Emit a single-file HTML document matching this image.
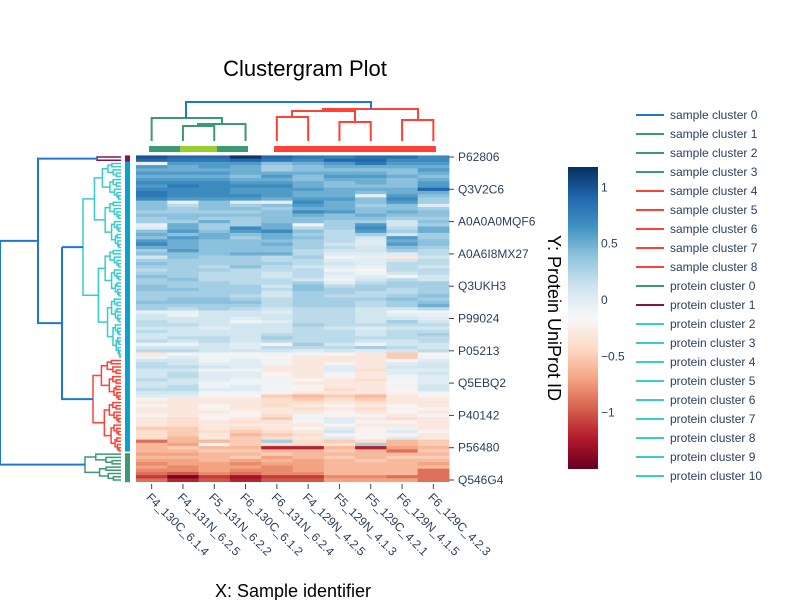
<!DOCTYPE html>
<html><head><meta charset="utf-8"><style>
body{margin:0;background:#fff;}
svg{font-family:"Liberation Sans",Arial,sans-serif;}
</style></head><body>
<svg id="chart" width="800" height="600" xmlns="http://www.w3.org/2000/svg">
<text x="305" y="76" font-size="22" text-anchor="middle" fill="#000">Clustergram Plot</text>
<text x="293" y="597" font-size="18" text-anchor="middle" fill="#000">X: Sample identifier</text>
<g id="heat"></g>
<g id="xt"></g>
<g id="yt"></g>
<g id="cden"></g>
<g id="rden"></g>
<g id="cbar"></g>
<g id="leg"></g>
<text transform="translate(548,318) rotate(90)" font-size="18" text-anchor="middle" fill="#000">Y: Protein UniProt ID</text>
</svg>
<script>
const columns=["F4_130C_6.1.4","F4_131N_6.2.5","F5_131N_6.2.2","F6_130C_6.1.2","F6_131N_6.2.4","F4_129N_4.2.5","F5_129N_4.1.3","F5_129C_4.2.1","F6_129N_4.1.5","F6_129C_4.2.3"];
const rowLabels=["P62806","Q3V2C6","A0A0A0MQF6","A0A6I8MX27","Q3UKH3","P99024","P05213","Q5EBQ2","P40142","P56480","Q546G4"];
const colorTicks=[1,0.5,0,-0.5,-1];
const legendNames=["sample cluster 0","sample cluster 1","sample cluster 2","sample cluster 3","sample cluster 4","sample cluster 5","sample cluster 6","sample cluster 7","sample cluster 8","protein cluster 0","protein cluster 1","protein cluster 2","protein cluster 3","protein cluster 4","protein cluster 5","protein cluster 6","protein cluster 7","protein cluster 8","protein cluster 9","protein cluster 10"];
const legendColors=["#1f77d4","#3d9970","#3d9970","#3d9970","#ff4136","#ff4136","#ff4136","#ff4136","#ff4136","#3d9970","#85144b","#39cccc","#39cccc","#39cccc","#39cccc","#39cccc","#39cccc","#39cccc","#39cccc","#39cccc"];
const values=[
[1.0,0.9,0.9,1.15,0.9,0.8,0.75,0.85,0.85,0.7],
[0.9,0.8,0.8,0.9,0.8,0.7,0.9,0.9,0.7,0.7],
[-0.1,0.6,0.6,0.6,0.4,0.5,0.6,0.8,0.6,0.6],
[0.6,0.5,0.6,0.5,0.3,0.4,0.5,0.5,0.5,0.5],
[0.5,0.5,0.5,0.5,0.3,0.4,0.4,0.4,0.4,0.6],
[0.6,0.6,0.6,0.5,0.5,0.5,0.5,0.5,0.4,0.5],
[0.5,0.5,0.5,0.4,0.6,0.4,0.6,0.6,0.5,0.4],
[0.6,0.6,0.6,0.5,0.5,0.4,0.5,0.5,0.4,0.5],
[0.7,0.7,0.7,0.6,0.6,0.5,0.4,0.5,0.4,0.6],
[0.6,0.8,0.7,0.7,0.7,0.5,0.4,0.4,0.4,0.6],
[0.7,0.7,0.7,0.6,0.6,0.6,0.5,0.5,0.5,0.9],
[0.8,0.7,0.7,0.6,0.6,0.5,0.5,0.4,0.5,0.5],
[0.8,0.7,0.7,0.7,0.6,0.5,0.5,-0.05,0.6,0.4],
[0.7,0.6,0.6,0.6,0.5,0.6,0.6,0.4,0.7,0.3],
[0.4,-0.05,0.4,0.0,-0.05,0.7,0.5,0.4,0.6,0.3],
[0.4,0.2,0.4,0.3,0.4,0.6,0.5,0.3,0.4,0.0],
[0.4,0.3,0.4,0.4,0.3,0.5,0.5,0.4,0.4,0.3],
[0.3,0.3,0.3,0.3,0.4,0.7,0.6,0.4,0.5,0.4],
[0.4,0.4,0.4,0.4,0.4,0.5,0.4,0.5,0.4,0.4],
[0.3,0.4,0.3,0.3,0.4,0.4,0.4,0.4,0.3,0.3],
[0.3,0.3,0.5,0.3,0.4,0.4,0.3,0.3,0.1,0.4],
[-0.05,0.5,0.3,0.3,0.5,-0.1,0.3,0.6,0.1,0.3],
[0.0,0.5,0.3,0.7,0.5,0.2,0.3,0.7,0.2,0.5],
[0.4,0.6,0.4,0.6,0.7,0.4,0.2,0.6,0.3,0.5],
[0.5,0.4,0.5,0.4,0.5,0.3,0.2,0.3,0.1,0.3],
[0.4,0.6,0.5,0.3,0.5,0.4,0.2,0.1,0.6,0.3],
[0.6,0.5,0.4,0.4,0.4,0.3,0.2,0.0,0.5,0.4],
[0.7,0.5,0.4,0.4,0.5,0.3,0.1,0.0,0.6,0.4],
[0.5,0.5,0.4,0.4,0.4,0.3,0.2,0.1,0.4,0.3],
[0.3,0.6,0.4,0.4,0.4,0.2,0.1,0.1,0.3,0.2],
[0.4,0.4,0.4,0.5,0.5,0.2,0.0,0.0,0.0,0.2],
[0.1,0.4,0.3,0.3,0.2,0.3,-0.1,-0.05,-0.3,0.1],
[0.3,0.3,0.3,0.3,0.2,0.2,0.0,0.0,0.1,0.2],
[0.4,0.3,0.3,0.3,0.3,0.2,0.1,0.0,0.2,0.2],
[0.3,0.3,0.2,0.4,0.2,0.1,0.0,-0.05,0.2,0.1],
[0.2,0.3,0.3,0.2,0.2,0.2,-0.1,-0.2,0.2,0.2],
[0.3,0.3,0.2,0.2,0.1,0.2,0.0,-0.1,0.1,0.2],
[0.4,0.3,0.2,0.2,0.1,0.2,-0.05,0.0,-0.2,0.1],
[0.3,0.4,0.2,0.2,0.2,0.1,-0.1,0.1,0.2,0.1],
[0.3,0.3,0.3,0.2,0.2,0.3,0.0,0.2,0.3,0.3],
[0.4,0.3,0.3,0.3,0.1,0.4,0.2,0.3,0.3,0.3],
[0.4,0.4,0.3,0.3,0.2,0.4,0.3,0.3,0.2,0.3],
[0.3,0.3,0.3,0.3,0.1,0.3,0.3,0.2,0.2,0.3],
[0.3,0.3,0.3,0.2,0.1,0.3,0.2,0.2,0.3,0.4],
[0.3,0.4,0.4,0.3,0.2,0.3,0.3,0.3,0.4,0.3],
[0.4,0.4,0.4,0.4,0.2,0.3,0.3,0.2,0.3,0.4],
[0.3,0.3,0.3,0.3,0.2,0.3,0.3,0.2,0.3,0.5],
[0.3,0.2,0.3,0.2,0.1,0.2,0.2,0.1,0.1,0.2],
[-0.05,-0.05,0.1,0.1,0.0,0.2,0.2,0.1,-0.1,-0.1],
[0.1,-0.1,0.1,0.1,0.1,0.2,0.2,0.1,0.0,-0.05],
[0.1,0.1,0.1,0.0,0.1,0.2,0.2,0.1,0.1,0.0],
[0.2,0.1,0.1,-0.1,0.0,0.2,0.2,0.1,0.3,0.1],
[0.2,0.2,0.1,0.1,0.1,0.3,0.2,0.2,0.2,0.2],
[0.1,0.1,0.0,0.1,0.1,0.2,0.1,0.0,0.1,0.1],
[0.2,0.1,0.1,0.1,0.1,0.2,0.2,0.1,0.2,0.2],
[0.1,0.1,0.1,0.1,0.2,0.2,0.2,0.1,0.2,0.3],
[0.1,0.2,0.2,0.1,0.3,0.2,0.2,0.2,0.2,0.2],
[0.2,0.1,0.2,0.1,0.2,0.2,0.2,0.1,0.1,0.2],
[-0.1,-0.1,0.1,0.0,-0.2,0.3,0.1,-0.1,0.1,0.1],
[0.1,0.1,0.1,0.0,0.2,0.2,0.2,0.3,0.2,0.1],
[0.2,0.2,0.1,0.1,0.1,0.0,0.1,0.0,0.1,0.2],
[-0.3,-0.2,-0.1,-0.2,-0.1,-0.1,-0.2,-0.3,-0.5,-0.2],
[-0.1,0.0,-0.1,-0.1,-0.2,-0.3,-0.3,-0.3,-0.5,-0.1],
[0.1,0.1,-0.1,0.0,-0.1,-0.3,-0.3,-0.3,-0.2,0.0],
[0.2,0.1,0.0,0.0,-0.1,-0.3,-0.2,-0.3,0.0,0.1],
[0.2,0.2,0.1,0.0,-0.3,-0.3,0.0,-0.3,0.1,0.1],
[0.1,0.1,-0.1,-0.1,-0.3,-0.3,0.0,-0.4,0.0,0.0],
[0.1,0.2,0.0,0.0,-0.2,-0.3,-0.1,-0.3,0.0,0.1],
[0.1,0.2,0.0,0.0,-0.2,-0.3,-0.2,-0.3,-0.1,0.0],
[0.2,0.1,0.0,-0.1,-0.1,-0.2,-0.3,-0.4,-0.1,0.0],
[0.1,0.1,-0.1,-0.1,-0.1,-0.3,-0.3,-0.3,-0.2,0.0],
[0.1,0.2,-0.1,0.0,-0.1,-0.2,-0.3,-0.3,-0.1,0.1],
[0.2,0.2,0.0,0.0,-0.1,-0.2,-0.4,-0.3,-0.2,0.1],
[0.1,0.1,-0.1,-0.1,-0.2,-0.3,-0.3,-0.3,-0.2,-0.1],
[0.0,0.0,-0.2,-0.2,-0.5,-0.6,-0.5,-0.6,-0.3,-0.2],
[-0.2,-0.3,-0.3,-0.3,-0.4,-0.5,-0.4,-0.5,-0.3,-0.3],
[-0.3,-0.3,-0.3,-0.3,-0.4,-0.4,-0.3,-0.4,-0.3,-0.3],
[-0.2,-0.3,-0.2,-0.3,-0.4,-0.3,-0.2,-0.3,-0.2,-0.3],
[-0.3,-0.3,-0.2,-0.3,-0.3,-0.4,-0.3,-0.4,-0.1,-0.2],
[-0.3,-0.3,-0.3,-0.2,-0.3,-0.3,-0.2,-0.3,-0.2,-0.3],
[-0.2,-0.3,-0.2,-0.2,-0.4,-0.1,-0.2,-0.2,-0.3,-0.2],
[-0.3,-0.4,-0.2,-0.3,-0.5,-0.1,0.0,-0.3,-0.4,-0.3],
[-0.3,-0.4,-0.3,-0.4,-0.3,-0.2,0.0,-0.2,-0.2,-0.3],
[-0.3,-0.4,-0.3,-0.3,-0.3,-0.3,-0.2,-0.3,-0.3,-0.3],
[-0.5,-0.5,-0.3,-0.4,-0.3,-0.2,0.0,-0.2,-0.1,-0.3],
[-0.4,-0.5,-0.4,-0.5,-0.4,-0.3,0.1,-0.2,0.0,-0.2],
[-0.4,-0.5,-0.3,-0.6,-0.5,-0.4,-0.2,-0.2,-0.2,-0.3],
[-0.4,-0.6,-0.3,-0.5,-0.4,-0.3,0.0,-0.2,0.0,-0.3],
[-0.9,-0.6,-0.6,-0.5,0.3,-0.4,-0.5,-0.4,-0.6,-0.5],
[-0.6,-0.7,-0.2,-0.5,-0.4,-0.4,-0.4,0.3,-0.6,-0.5],
[-0.6,-0.5,-0.6,-0.6,-1.2,-1.2,-0.6,-1.2,-0.7,-0.6],
[-0.6,-0.6,-0.5,-0.5,-0.6,-0.6,-0.5,-0.6,-0.9,-0.5],
[-0.7,-0.7,-0.6,-0.6,-0.5,-0.6,-0.6,-0.6,-0.6,-0.6],
[-0.6,-0.6,-0.6,-0.5,-0.7,-0.6,-0.5,-0.6,-0.5,-0.5],
[-0.7,-0.7,-0.6,-0.7,-0.6,-0.7,-0.6,-0.5,-0.6,-0.6],
[-0.8,-0.7,-0.7,-0.8,-0.7,-0.7,-0.6,-0.6,-0.6,-0.7],
[-0.7,-0.8,-0.7,-0.7,-0.8,-0.7,-0.6,-0.6,-0.6,-0.6],
[-0.8,-0.8,-0.7,-0.8,-0.8,-0.7,-0.6,-0.6,-0.6,-0.9],
[-0.9,-1.0,-0.8,-0.9,-0.8,-0.8,-0.6,-0.6,-0.6,-0.9],
[-1.1,-1.45,-1.1,-1.3,-1.1,-1.1,-0.8,-0.8,-0.9,-0.9],
[-0.9,-1.2,-1.0,-1.2,-1.0,-1.0,-0.7,-0.7,-0.7,-0.9]
];
const NS="http://www.w3.org/2000/svg";
function mk(tag,attrs,parent){const e=document.createElementNS(NS,tag);for(const k in attrs)e.setAttribute(k,attrs[k]);parent.appendChild(e);return e;}
const zMin=-1.5,zMax=1.18;
const stops=[[103,0,31],[178,24,43],[214,96,77],[244,165,130],[253,219,199],[247,247,247],[209,229,240],[146,197,222],[67,147,195],[33,102,172],[5,48,97]];
function color(v){let t=(v-zMin)/(zMax-zMin);t=Math.max(0,Math.min(1,t))*(stops.length-1);const i=Math.min(stops.length-2,Math.floor(t)),f=t-i;const a=stops[i],b=stops[i+1];return `rgb(${Math.round(a[0]+(b[0]-a[0])*f)},${Math.round(a[1]+(b[1]-a[1])*f)},${Math.round(a[2]+(b[2]-a[2])*f)})`;}
const X0=136,X1=449,Y0=157,Y1=480;
const nC=columns.length,nR=values.length;
const cw=(X1-X0)/nC, rh=(Y1-Y0)/(nR-1);
function xScale(c){return X0+cw*(c+0.5);}
function yScale(r){return Y0+rh*r;}
const heat=document.getElementById('heat');
values.forEach((row,r)=>row.forEach((v,c)=>{
  const e=mk('rect',{x:X0+cw*c,y:Math.max(Y0-1.6,yScale(r)-rh/2),width:cw+0.4,height:rh+0.4,fill:color(v)},heat);
  
  
}));
const xt=document.getElementById('xt');
columns.forEach((lab,c)=>{
  const x=xScale(c);
  mk('line',{x1:x,y1:484,x2:x,y2:489,stroke:'#444'},xt);
  const t=mk('text',{transform:`translate(${x-6},498) rotate(45)`,'font-size':12,fill:'#2a3f5f'},xt);
  t.textContent=lab;
  
  
});
const yt=document.getElementById('yt');
rowLabels.forEach((lab,i)=>{
  const y=yScale(i*10);
  mk('line',{x1:449,y1:y,x2:454,y2:y,stroke:'#444'},yt);
  const t=mk('text',{x:458,y:y+4,'font-size':12,fill:'#2a3f5f'},yt);
  t.textContent=lab;
  
  
});
const cd=document.getElementById('cden');
function path(d,col,g,w){const p=mk('path',{d:d,stroke:col,fill:'none','stroke-width':w||2},g);return p;}
const G='#3d9970',R='#ff4136',B='#1f77d4',T='#39cccc';
path(`M${xScale(0)},141V118H222V125`,G,cd);
path(`M${xScale(1)},141V126H${xScale(2)}V141`,G,cd);
path(`M198,126V124H${xScale(3)}V141`,G,cd);
path(`M${xScale(4)},141V117H${xScale(5)}V141`,R,cd);
path(`M${xScale(6)},141V122H${xScale(7)}V141`,R,cd);
path(`M${xScale(8)},141V120H${xScale(9)}V141`,R,cd);
path(`M292,117V111H355V122`,R,cd);
path(`M323,111V109H418V120`,R,cd);
path(`M186,118V102H371V109`,B,cd);
mk('rect',{x:149,y:146,width:31,height:6,fill:G},cd);
mk('rect',{x:180,y:146,width:37,height:6,fill:'#9acd32'},cd);
mk('rect',{x:217,y:146,width:31,height:6,fill:G},cd);
mk('rect',{x:274,y:146,width:162,height:6,fill:R},cd);
const rd=document.getElementById('rden');
const LX=121;
function tree(a,b,x,col){
  if(a===b)return yScale(a);
  const s=a+Math.max(0,Math.floor((b-a+1)*0.45)-1);
  const cx=x+(LX-x)*0.3;
  const y1=tree(a,s,a===s?LX:cx,col), y2=tree(s+1,b,s+1===b?LX:cx+(LX-cx)*0.15,col);
  const xa=a===s?LX:cx, xb=s+1===b?LX:cx+(LX-cx)*0.15;
  path(`M${xa},${y1}H${x}V${y2}H${xb}`,col,rd,1.5);
  return (y1+y2)/2;
}
const ym=tree(0,1,97,'#85144b');
const yT=tree(2,62,83,T);
const yRd=tree(63,91,93,R);
const yG=tree(92,100,85,G);
const yMid=(yT+yRd)/2;
path(`M62,${yT}H83`,B,rd,2);
path(`M62,${yT}V${yRd}H93`,B,rd,2);
path(`M97,${ym}H38V${yMid}H62`,B,rd,2);
const yTop=(ym+yMid)/2;
path(`M38,${yTop}H0V${yG}H85`,B,rd,2);
mk('rect',{x:125,y:yScale(0)-1.6,width:5,height:2*rh,fill:'#85144b'},rd);
mk('rect',{x:125,y:yScale(2)-1.6,width:5,height:rh*61+rh*29-1,fill:'#0aa0d2'},rd);
mk('rect',{x:125,y:yScale(92)-1,width:5,height:rh*9,fill:G},rd);
const cb=document.getElementById('cbar');
const defs=mk('defs',{},cb);
const lg=mk('linearGradient',{id:'cg',x1:0,y1:1,x2:0,y2:0},defs);
stops.forEach((s,i)=>mk('stop',{offset:i/(stops.length-1),'stop-color':`rgb(${s})`},lg));
const CB0=167,CB1=469;
mk('rect',{x:568,y:CB0,width:30,height:CB1-CB0,fill:'url(#cg)'},cb);
function cbY(v){return CB1-(v-zMin)/(zMax-zMin)*(CB1-CB0);}
colorTicks.forEach(v=>{
  const t=mk('text',{x:601,y:cbY(v)+4,'font-size':12,fill:'#2a3f5f'},cb);
  t.textContent=v<0?'\u2212'+Math.abs(v):String(v);
  
  
});
const leg=document.getElementById('leg');
legendNames.forEach((n,i)=>{
  const y=115+i*19;
  const g=mk('g',{},leg);
  
  
  mk('line',{x1:636,y1:y,x2:664,y2:y,stroke:legendColors[i],'stroke-width':2},g);
  const t=mk('text',{x:670,y:y+4,'font-size':12,fill:'#2a3f5f'},g);
  t.textContent=n;
});
</script>
</body></html>
